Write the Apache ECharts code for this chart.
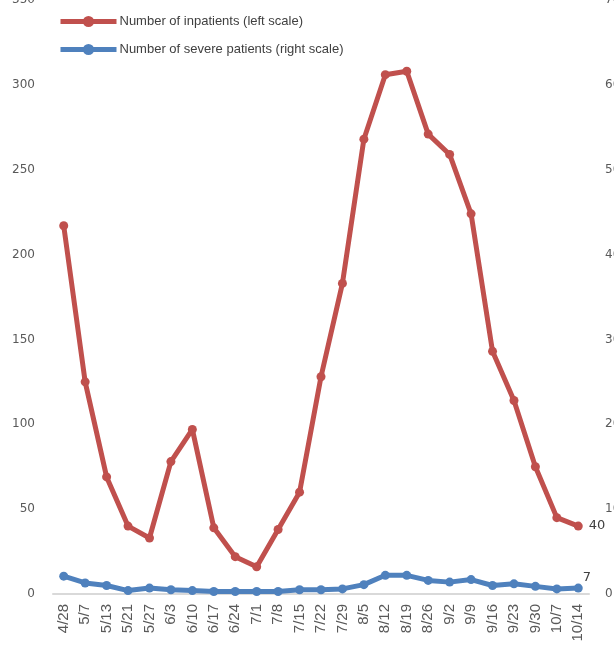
<!DOCTYPE html>
<html>
<head>
<meta charset="utf-8">
<style>
  html, body { margin: 0; padding: 0; background: #fff; }
  #chart { width: 614px; height: 656px; }
</style>
<script src="https://cdn.jsdelivr.net/npm/echarts@6/dist/echarts.min.js"></script>
</head>
<body>
<div id="chart"></div>
<script>
const categories = ["4/28", "5/7", "5/13", "5/21", "5/27", "6/3", "6/10", "6/17", "6/24", "7/1",
  "7/8", "7/15", "7/22", "7/29", "8/5", "8/12", "8/19", "8/26", "9/2", "9/9",
  "9/16", "9/23", "9/30", "10/7", "10/14"];

// left scale
const inpatients = [217, 125, 69, 40, 33, 78, 97, 39, 22, 16,
  38, 60, 128, 183, 268, 306, 308, 271, 259, 224,
  143, 114, 75, 45, 40];

// right scale
const severe = [21, 13, 10, 4, 7, 5, 4, 3, 3, 3,
  3, 5, 5, 6, 11, 22, 22, 16, 14, 17,
  10, 12, 9, 6, 7];

const seriesNames = ["Number of inpatients (left scale)", "Number of severe patients (right scale)"];

const chart = echarts.init(document.getElementById("chart"));

const lastOnly = (params) => (params.dataIndex === categories.length - 1 ? String(params.value) : "");

chart.setOption({
  animation: false,
  color: ["#C0504D", "#4F81BD"],
  grid: {
    left: 53,
    right: 25,
    top: 0,
    bottom: 62,
    outerBoundsMode: "none",
    containLabel: false,
  },
  legend: {
    orient: "vertical",
    left: 53,
    top: 10,
    itemWidth: 56,
    itemHeight: 14,
    itemGap: 15,
    lineStyle: { width: 5 },
    itemStyle: { borderWidth: 0 },
    textStyle: {
      fontFamily: "Liberation Sans",
      fontSize: 13,
      color: "#404040",
      padding: [0, 0, 0, -2],
    },
    data: seriesNames,
  },
  xAxis: {
    type: "category",
    data: categories,
    axisLine: { lineStyle: { color: "#d9d9d9", width: 2 } },
    axisTick: { show: false },
    axisLabel: {
      rotate: 90,
      interval: 0,
      margin: 10,
      fontFamily: "Liberation Sans",
      fontSize: 15,
      color: "#595959",
    },
  },
  yAxis: [
    {
      type: "value",
      min: 0,
      max: 350,
      interval: 50,
      splitLine: { show: false },
      axisLine: { show: false },
      axisLabel: {
        margin: 18,
        fontFamily: "DejaVu Sans",
        fontSize: 12,
        color: "#595959",
      },
    },
    {
      type: "value",
      min: 0,
      max: 700,
      interval: 100,
      splitLine: { show: false },
      axisLine: { show: false },
      axisLabel: {
        margin: 16,
        fontFamily: "DejaVu Sans",
        fontSize: 12,
        color: "#595959",
      },
    },
  ],
  series: [
    {
      name: seriesNames[0],
      type: "line",
      yAxisIndex: 0,
      data: inpatients,
      symbol: "circle",
      symbolSize: 9,
      lineStyle: { width: 5 },
      label: {
        show: true,
        position: "right",
        distance: 6,
        formatter: lastOnly,
        fontFamily: "DejaVu Sans",
        fontSize: 13,
        color: "#404040",
      },
    },
    {
      name: seriesNames[1],
      type: "line",
      yAxisIndex: 1,
      data: severe,
      symbol: "circle",
      symbolSize: 9,
      lineStyle: { width: 5 },
      label: {
        show: true,
        position: "right",
        distance: 1,
        offset: [-1, -10],
        formatter: lastOnly,
        fontFamily: "DejaVu Sans",
        fontSize: 13,
        color: "#404040",
      },
    },
  ],
});
</script>
</body>
</html>
